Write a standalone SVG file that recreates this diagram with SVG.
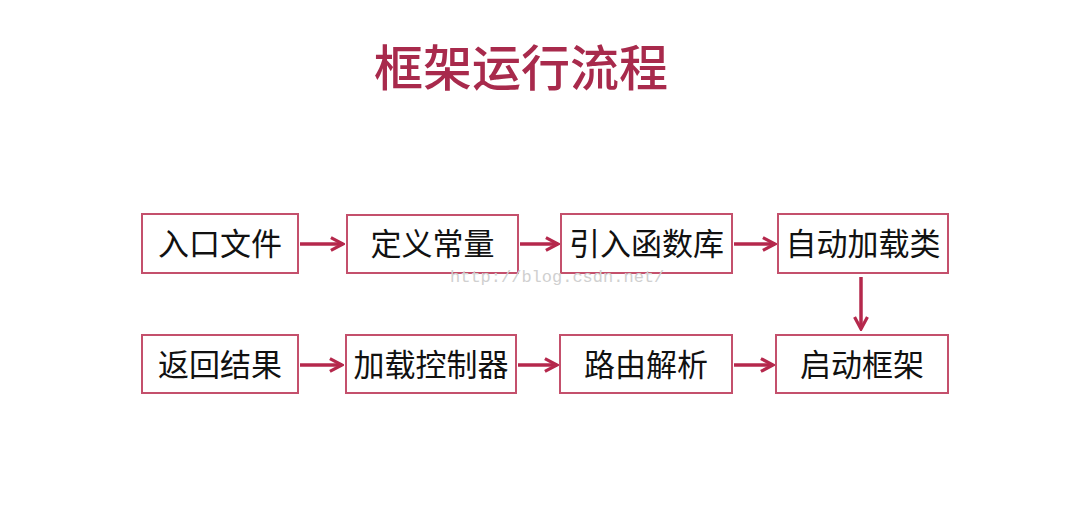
<svg xmlns="http://www.w3.org/2000/svg" width="1092" height="532" viewBox="0 0 1092 532">
<style>
.box{fill:#fff;stroke:#c4506c;stroke-width:2}
.lbl{font-family:"Noto Sans CJK SC","Noto Sans",sans-serif;font-size:31px;fill:#111;text-anchor:middle}
.title{font-family:"Noto Sans CJK SC","Noto Sans",sans-serif;font-size:49px;font-weight:500;fill:#a82a4c;text-anchor:middle}
.arr{stroke:#b5284c;stroke-width:3.5;fill:none;marker-end:url(#ah)}
.wm{font-family:"Liberation Mono",monospace;font-size:17px;fill:#d0d0d0}
</style>
<defs>
<marker id="ah" viewBox="0 0 10 10" refX="8.5" refY="5" markerWidth="4.6" markerHeight="4.6" orient="auto" markerUnits="strokeWidth">
<polyline points="1,1 8.5,5 1,9" fill="none" stroke="#b5284c" stroke-width="2"/>
</marker>
</defs>
<rect width="1092" height="532" fill="#fff"/>
<text class="title" x="521" y="86">框架运行流程</text>
<g id="n1"><rect class="box" x="142" y="214" width="156" height="59"/><text class="lbl" x="220" y="255">入口文件</text></g>
<g id="n2"><rect class="box" x="347" y="215" width="171" height="58"/><text class="lbl" x="432.5" y="255">定义常量</text></g>
<g id="n3"><rect class="box" x="561" y="214" width="171" height="59"/><text class="lbl" x="646.5" y="255">引入函数库</text></g>
<g id="n4"><rect class="box" x="778" y="214" width="170" height="59"/><text class="lbl" x="863" y="255">自动加载类</text></g>
<g id="n5"><rect class="box" x="776" y="335" width="172" height="58"/><text class="lbl" x="862" y="376">启动框架</text></g>
<g id="n6"><rect class="box" x="560" y="335" width="172" height="58"/><text class="lbl" x="646" y="376">路由解析</text></g>
<g id="n7"><rect class="box" x="346" y="335" width="170" height="58"/><text class="lbl" x="431" y="376">加载控制器</text></g>
<g id="n8"><rect class="box" x="142" y="335" width="156" height="58"/><text class="lbl" x="220" y="376">返回结果</text></g>
<g id="connectors">
<line class="arr" x1="300" y1="244" x2="343" y2="244"/>
<line class="arr" x1="520" y1="244" x2="558" y2="244"/>
<line class="arr" x1="734" y1="244" x2="775" y2="244"/>
<line class="arr" x1="861" y1="277" x2="861" y2="329"/>
<line class="arr" x1="734" y1="365" x2="773" y2="365"/>
<line class="arr" x1="518" y1="365" x2="557" y2="365"/>
<line class="arr" x1="300" y1="365" x2="342" y2="365"/>
</g>
<text class="wm" x="450" y="282">http://blog.csdn.net/</text>
</svg>
